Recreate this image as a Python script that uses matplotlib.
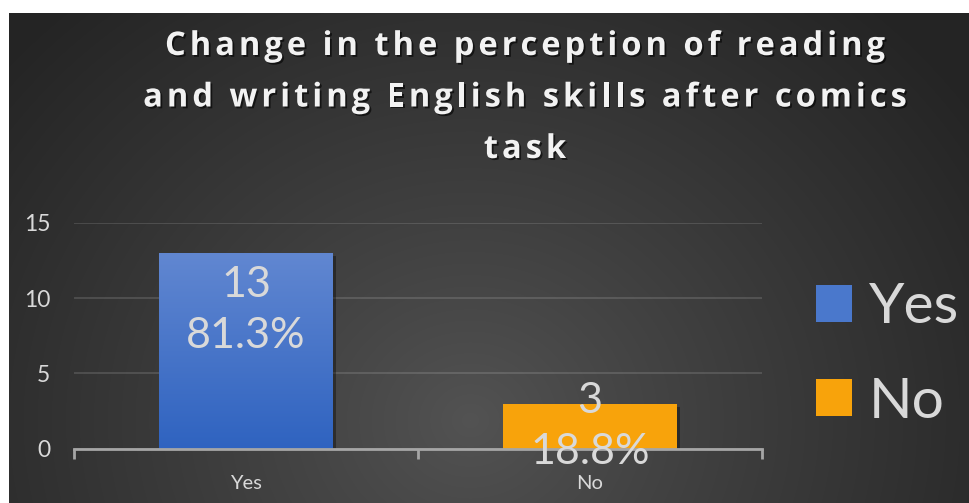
import numpy as np
import matplotlib
matplotlib.use("Agg")
import matplotlib.pyplot as plt
from matplotlib import patheffects
from matplotlib.patches import Patch
from matplotlib.font_manager import FontProperties, findfont, get_font
from matplotlib.colors import to_rgb

# ---- data ----
categories = ["Yes", "No"]
counts = [13, 3]
percents = ["81.3%", "18.8%"]
yticks = [0, 5, 10, 15]
title_lines = ["Change in the perception of reading",
               "and writing English skills after comics",
               "task"]

W, H, DPI = 969, 503, 100
FONT = "Lato"
TXT = "#d9d9d9"

fig = plt.figure(figsize=(W / DPI, H / DPI), dpi=DPI)
fig.patch.set_facecolor("white")

# ---- dark radial-gradient backdrop ----
bx0, by0 = 9, 13  # px from left / top
bg = fig.add_axes([bx0 / W, 0, (W - bx0) / W, (H - by0) / H], zorder=-5)
bg.set_axis_off()
yy, xx = np.mgrid[by0:H, bx0:W]
r = np.hypot((xx - 470) / 1.0, (yy - 420) / 0.9)
t = np.clip(r / 620, 0, 1) ** 0.9
c0 = np.array(to_rgb("#535353"))
c1 = np.array(to_rgb("#242424"))
img = c0[None, None, :] * (1 - t[..., None]) + c1[None, None, :] * t[..., None]
bg.imshow(img, aspect="auto", extent=[0, 1, 0, 1], origin="upper")
bg.set_xlim(0, 1)
bg.set_ylim(0, 1)

# ---- plot area ----
ax_left, ax_right = 74, 762
ax_top, ax_bot = 222.7, 448.7
ax = fig.add_axes([ax_left / W, (H - ax_bot) / H,
                   (ax_right - ax_left) / W, (ax_bot - ax_top) / H])
ax.set_facecolor("none")
ax.set_xlim(-0.5, len(categories) - 0.5)
ax.set_ylim(0, 15)

x = np.arange(len(categories))
bar_colors = ["#4472c4", "#f8a30b"]
shadow = [patheffects.withSimplePatchShadow(offset=(2.5, -2.5), shadow_rgbFace="black", alpha=0.35)]
bars = ax.bar(x, counts, width=0.503, color=bar_colors, zorder=3)
for b in bars:
    b.set_path_effects(shadow)

# vertical gradient on the blue bar
grad = np.linspace(0, 1, 256)[:, None]
top_c = np.array(to_rgb("#6187d1"))
bot_c = np.array(to_rgb("#2f63c0"))
gimg = top_c[None, None, :] * (1 - grad[..., None]) + bot_c[None, None, :] * grad[..., None]
gimg = np.repeat(gimg, 2, axis=1)
b0 = bars[0]
gi = ax.imshow(gimg, extent=[b0.get_x(), b0.get_x() + b0.get_width(), 0, b0.get_height()],
               aspect="auto", origin="upper", zorder=3.5)
gi.set_clip_path(b0)
ax.set_xlim(-0.5, len(categories) - 0.5)
ax.set_ylim(0, 15)

# grid, spines, ticks
ax.set_yticks(yticks)
ax.yaxis.grid(True, color="#ffffff", alpha=0.13, linewidth=1.5, zorder=0)
ax.set_axisbelow(True)
for s in ["top", "right", "left"]:
    ax.spines[s].set_visible(False)
ax.spines["bottom"].set_color("#a6a6a6")
ax.spines["bottom"].set_linewidth(2)
ax.spines["bottom"].set_zorder(4)
ax.tick_params(axis="y", length=0, pad=17, labelsize=16.5, labelcolor=TXT)
ax.set_xticks(np.arange(len(categories) + 1) - 0.5, minor=True)
ax.set_xticks(x)
ax.set_xticklabels(categories)
ax.tick_params(axis="x", which="major", length=0, pad=19, labelsize=14.5, labelcolor=TXT)
ax.tick_params(axis="x", which="minor", length=7, width=2, color="#a6a6a6", direction="out")
for lab in ax.get_yticklabels() + ax.get_xticklabels():
    lab.set_fontfamily(FONT)

# data labels: inside end when they fit, otherwise centred on the bar
px_per_unit = (ax_bot - ax_top) / 15
label_h_px = 95
for xi, v, p in zip(x, counts, percents):
    txt = f"{v}\n{p}"
    kw = dict(ha="center", va="center", fontsize=31, color=TXT, family=FONT,
              linespacing=1.42, zorder=6)
    if v * px_per_unit > label_h_px + 20:
        ax.annotate(txt, (xi, v), xytext=(0, -58 * 72 / DPI), textcoords="offset points", **kw)
    else:
        ax.annotate(txt, (xi, v / 2), **kw)

# legend
handles = [Patch(facecolor="#4a78cc", label=categories[0]),
           Patch(facecolor=bar_colors[1], label=categories[1])]
leg = fig.legend(handles=handles, loc="center left",
                 bbox_to_anchor=(816 / W, 1 - 355 / H),
                 frameon=False, prop={"family": FONT, "size": 41},
                 handlelength=0.63, handleheight=0.63, handletextpad=0.3,
                 labelspacing=0.76, borderaxespad=0, borderpad=0)
for tx in leg.get_texts():
    tx.set_color(TXT)

# title with letter tracking and a soft drop shadow
tsize = 23.5
tfp = FontProperties(family="Open Sans", weight="bold", size=tsize)
tfont = get_font(findfont(tfp))
tfont.set_size(tsize, DPI)
tracking = 4.0
tshadow = [patheffects.withSimplePatchShadow(offset=(1.3, -1.3), shadow_rgbFace="black", alpha=0.6)]
cx = 525
baselines = [55, 106.5, 158]
for line, base in zip(title_lines, baselines):
    advs = []
    for ch in line:
        g = tfont.load_char(ord(ch))
        advs.append(g.linearHoriAdvance / 65536)
    total = sum(advs) + tracking * (len(line) - 1)
    xp = cx - total / 2
    for ch, a in zip(line, advs):
        if ch != " ":
            fig.text(xp / W, 1 - base / H, ch, fontproperties=tfp, color="#f2f2f2",
                     ha="left", va="baseline", path_effects=tshadow)
        xp += a + tracking

fig.savefig("out.png", dpi=DPI, facecolor=fig.get_facecolor())
